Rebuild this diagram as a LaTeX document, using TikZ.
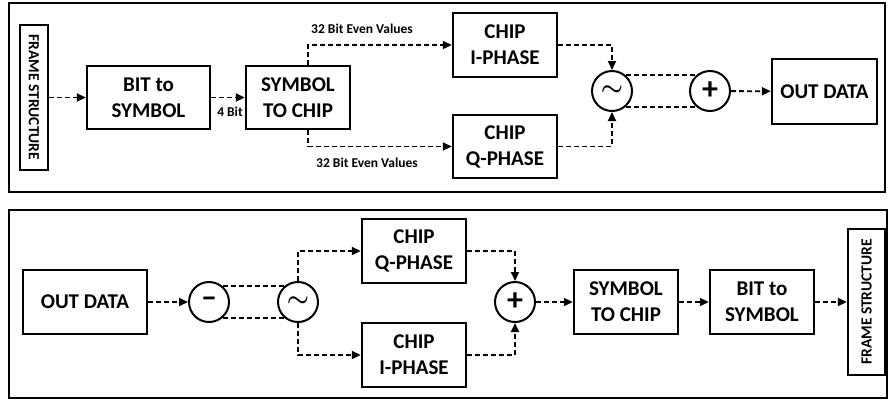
\documentclass[tikz,border=0pt]{standalone}
\usepackage{fontspec}
\setmainfont{Carlito}
\usetikzlibrary{arrows.meta}
\tikzset{
	blk/.style={draw, line width=2.4pt, align=center, inner sep=0pt, font=\bfseries\fontsize{21}{26}\selectfont},
	frm/.style={blk, font=\bfseries\fontsize{15.5}{18}\selectfont},
	opr/.style={draw, circle, line width=2pt, minimum size=40pt, inner sep=0pt, font=\bfseries\fontsize{32}{32}\selectfont},
	wave/.style={opr, font=\boldmath\fontsize{34}{34}\selectfont},
	link/.style={line width=1.8pt, dash pattern=on 5pt off 3pt},
	flow/.style={link, -{Triangle[length=9pt,width=8pt]}},
	lbl/.style={font=\bfseries\fontsize{13.5}{16}\selectfont},
	panel/.style={line width=2.5pt}
}
\begin{document}
\begin{tikzpicture}[x=1pt, y=-1pt]
	\useasboundingbox (0,0) rectangle (888,400);
	\draw[panel] (9,3)   rectangle (885,192);
	\draw[panel] (9,210) rectangle (887,398);

	\node[frm, rotate=-90, minimum width=145pt, minimum height=28pt] (frameA)   at (34,97.5)   {FRAME STRUCTURE};
	\node[blk, minimum width=123pt, minimum height=63pt]             (bitsymA)  at (148.5,97.5) {BIT to\\SYMBOL};
	\node[blk, minimum width=104pt, minimum height=63pt]             (symchipA) at (298,97.5)  {SYMBOL\\TO CHIP};
	\node[blk, minimum width=104pt, minimum height=64pt]             (chipIA)   at (505,45)    {CHIP\\I-PHASE};
	\node[blk, minimum width=104pt, minimum height=63pt]             (chipQA)   at (505,146.5) {CHIP\\Q-PHASE};
	\node[wave]                                                      (modA)     at (612,91)    {$\sim$};
	\node[opr]                                                       (addA)     at (710,91)    {+};
	\node[blk, minimum width=105pt, minimum height=65pt]             (outA)     at (824.5,91.5) {OUT DATA};
	\node[lbl] (evenI)  at (362,29)  {32 Bit Even Values};
	\node[lbl] (evenQ)  at (367,163) {32 Bit Even Values};
	\node[lbl] (nibble) at (230,112) {4 Bit};

	\draw[flow] (frameA) -- (bitsymA);
	\draw[flow] (bitsymA) -- (symchipA);
	\draw[flow] ([xshift=10pt]symchipA.north) |- (chipIA);
	\draw[flow] ([xshift=10pt]symchipA.south) |- (chipQA);
	\draw[flow] (chipIA) -| (modA);
	\draw[flow] (chipQA) -| (modA);
	\draw[link] (modA.49) -- (addA.131);
	\draw[link] (modA.-49) -- (addA.-131);
	\draw[flow] (addA) -- (outA);

	\node[blk, minimum width=124pt, minimum height=64pt]             (outB)     at (85,302)    {OUT DATA};
	\node[opr]                                                       (subB)     at (209,302)   {--};
	\node[wave]                                                      (modB)     at (298,302)   {$\sim$};
	\node[blk, minimum width=104pt, minimum height=64pt]             (chipQB)   at (414,251)   {CHIP\\Q-PHASE};
	\node[blk, minimum width=104pt, minimum height=64pt]             (chipIB)   at (414,355)   {CHIP\\I-PHASE};
	\node[opr]                                                       (addB)     at (515,302)   {+};
	\node[blk, minimum width=104pt, minimum height=64pt]             (symchipB) at (626,302)   {SYMBOL\\TO CHIP};
	\node[blk, minimum width=104pt, minimum height=64pt]             (bitsymB)  at (762,302)   {BIT to\\SYMBOL};
	\node[frm, rotate=90, minimum width=146pt, minimum height=37pt]  (frameB)   at (866.5,302) {FRAME STRUCTURE};

	\draw[flow] (outB) -- (subB);
	\draw[link] (subB.49) -- (modB.131);
	\draw[link] (subB.-49) -- (modB.-131);
	\draw[flow] (modB) |- (chipQB);
	\draw[flow] (modB) |- (chipIB);
	\draw[flow] (chipQB) -| (addB);
	\draw[flow] (chipIB) -| (addB);
	\draw[flow] (addB) -- (symchipB);
	\draw[flow] (symchipB) -- (bitsymB);
	\draw[flow] (bitsymB) -- (frameB);
\end{tikzpicture}
\end{document}
